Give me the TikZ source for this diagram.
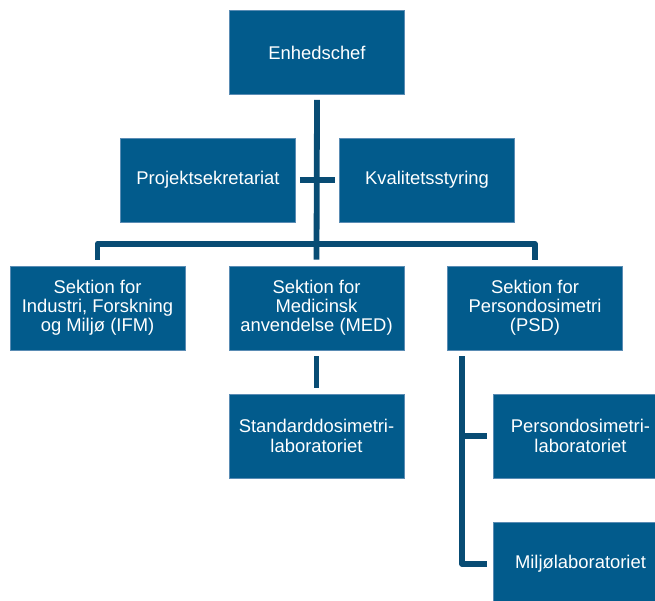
\documentclass[tikz,border=0pt]{standalone}
\usepackage{fontspec}
\setmainfont{Liberation Sans}
\usepackage{tikz}
\usetikzlibrary{calc}
\definecolor{boxblue}{RGB}{2,91,140}
\definecolor{boxedge}{RGB}{90,140,180}
\definecolor{lineblue}{RGB}{8,76,116}
\tikzset{
  unit/.style={rectangle,fill=boxblue,draw=boxedge,line width=0.8pt,
    text=white,align=center,minimum width=175pt,minimum height=84pt,
    inner sep=2pt,font=\fontsize{18.4}{19.2}\selectfont},
  link/.style={draw=lineblue,line width=5.8pt,line join=round}
}

\begin{document}
\begin{tikzpicture}[x=1pt,y=-1pt]
  % page frame, right-hand boxes run off the edge
  \useasboundingbox (0,0) rectangle (655,601);
  \clip (0,0) rectangle (655,601);
  % top level
  \node[unit] (chef) at (317,52.5) {Enhedschef};
  \node[unit] (proj) at (208,180) {Projektsekretariat};
  \node[unit] (kval) at (427,180) {Kvalitetsstyring};
  % sections
  \node[unit] (ifm) at (97.5,308) {Sektion for\\Industri, Forskning\\og Milj\o{} (IFM)};
  \node[unit] (med) at (316.5,308) {Sektion for\\Medicinsk\\anvendelse (MED)};
  \node[unit] (psd) at (535,308) {Sektion for\\Persondosimetri\\(PSD)};
  % laboratories
  \node[unit] (std) at (316.5,436) {Standarddosimetri-\\laboratoriet};
  \node[unit] (pers) at (580.5,436) {Persondosimetri-\\laboratoriet};
  \node[unit] (milj) at (580.5,564) {Milj\o{}laboratoriet};
  % bus between top and sections
  \coordinate (bus) at (316.5,244);
  \draw[link] ($(chef.south)+(0,5)$) -- ($(med.north)+(0,-6)$);
  \draw[link] ($(ifm.north)+(0,-6)$) |- (bus) -| ($(psd.north)+(0,-6)$);
  \draw[link] ($(proj.east)+(4,0)$) -- ($(kval.west)+(-4,0)$);
  % down to the laboratories
  \draw[link] ($(med.south)+(0,6)$) -- ($(std.north)+(0,-6)$);
  \coordinate (psdleg) at ($(psd.south west)+(15,6)$);
  \draw[link] (psdleg) |- ($(milj.west)+(-6,0)$);
  \draw[link] (psdleg |- pers.west) -- ($(pers.west)+(-6,0)$);
\end{tikzpicture}
\end{document}
